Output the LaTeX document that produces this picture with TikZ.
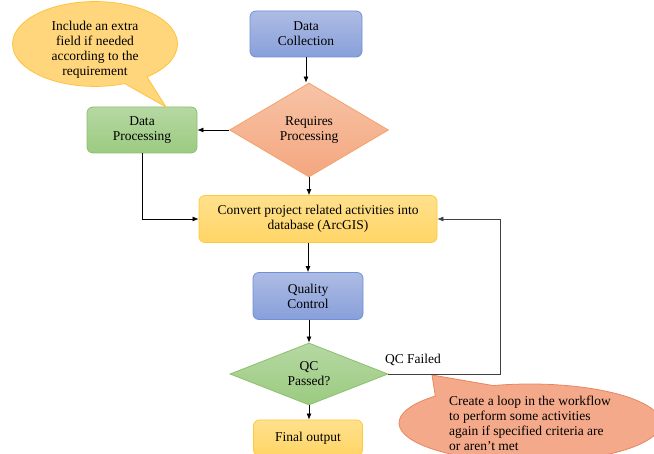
\documentclass[tikz,border=0pt]{standalone}
\usepackage{fontspec}
\setmainfont{Liberation Serif}
\usetikzlibrary{shapes.geometric,shapes.callouts,arrows.meta}

\definecolor{bluetop}{HTML}{ADBCE4}
\definecolor{bluebot}{HTML}{889FDA}
\definecolor{blueedge}{HTML}{6F8FD6}
\definecolor{greentop}{HTML}{B6D8A3}
\definecolor{greenbot}{HTML}{9BCB80}
\definecolor{greenedge}{HTML}{8DBF6E}
\definecolor{salmtop}{HTML}{F7C3A6}
\definecolor{salmbot}{HTML}{F4A77F}
\definecolor{salmedge}{HTML}{F4A26B}
\definecolor{yeltop}{HTML}{FFE08C}
\definecolor{yelbot}{HTML}{FFD566}
\definecolor{yeledge}{HTML}{FFC93A}
\definecolor{calloutyel}{HTML}{FFD67C}
\definecolor{calloutyeledge}{HTML}{FFC23A}
\definecolor{calloutred}{HTML}{F4A98A}
\definecolor{calloutrededge}{HTML}{E8865F}

\begin{document}
\begin{tikzpicture}[x=1pt,y=-1pt,
  font=\fontsize{13.5}{15}\selectfont,
  every node/.style={align=center,inner sep=0pt},
  box/.style={rounded corners=6pt,line width=0.8pt},
  bluebox/.style={box,draw=blueedge,top color=bluetop,bottom color=bluebot},
  greenbox/.style={box,draw=greenedge,top color=greentop,bottom color=greenbot},
  yelbox/.style={box,draw=yeledge,top color=yeltop,bottom color=yelbot},
  decision/.style={diamond,line width=0.8pt,aspect=1.7},
  arr/.style={-{Latex[length=6pt,width=5pt]},line width=0.7pt}
]
\useasboundingbox (0,0) rectangle (654,454);

% flow boxes
\node[bluebox,minimum width=112pt,minimum height=46pt] (dc) at (306,34) {Data\\Collection};
\node[decision,draw=salmedge,top color=salmtop,bottom color=salmbot,
  minimum width=159pt,minimum height=94pt] (rp) at (309,130) {Requires\\Processing};
\node[greenbox,minimum width=110pt,minimum height=46pt] (dp) at (142,130) {Data\\Processing};
\node[yelbox,minimum width=238pt,minimum height=47pt] (cv) at (318,219)
  {Convert project related activities into\\database (ArcGIS)};
\node[bluebox,minimum width=110pt,minimum height=47pt] (qc) at (308,296) {Quality\\Control};
\node[decision,draw=greenedge,top color=greentop,bottom color=greenbot,
  minimum width=158pt,minimum height=62pt] (qp) at (309,374) {QC\\Passed?};
\node[yelbox,minimum width=109pt,minimum height=36pt] (fo) at (308,438) {Final output};
\node (qcf) at (413,360) {QC Failed};

% callouts
\coordinate (tip1) at (166,107);
\node[ellipse callout,draw=calloutyeledge,fill=calloutyel,line width=0.8pt,
  minimum width=165pt,minimum height=78pt,callout pointer arc=18,
  callout absolute pointer=(tip1)] (c1) at (95,44)
  {\raisebox{-6.5pt}[\height][\depth]{\begin{tabular}{@{}c@{}}Include an extra\\field if needed\\according to the\\requirement\end{tabular}}};
\coordinate (tip2) at (432,375);
\node[ellipse callout,draw=calloutrededge,fill=calloutred,line width=0.8pt,
  minimum width=262pt,minimum height=78pt,callout pointer arc=30,
  callout absolute pointer=(tip2),align=left] (c2) at (530,423)
  {Create a loop in the workflow\\to perform some activities\\again if specified criteria are\\or aren’t met};

% connectors
\draw[arr] (dc.south) -- (dc.south |- rp.north);
\draw[arr] (rp.west) -- (dp.east);
\draw[arr] (dp.south) |- (cv.west);
\draw[arr] (rp.south) -- (rp.south |- cv.north);
\draw[arr] (qc.north |- cv.south) -- (qc.north);
\draw[arr] (qc.south -| qp.north) -- (qp.north);
\draw[arr] (qp.south) -- (qp.south |- fo.north);
\coordinate (lp) at (500,219);
\draw[arr,black!75,line width=0.6pt] (qp.east) -| (lp) -- (cv.east);
\end{tikzpicture}
\end{document}
